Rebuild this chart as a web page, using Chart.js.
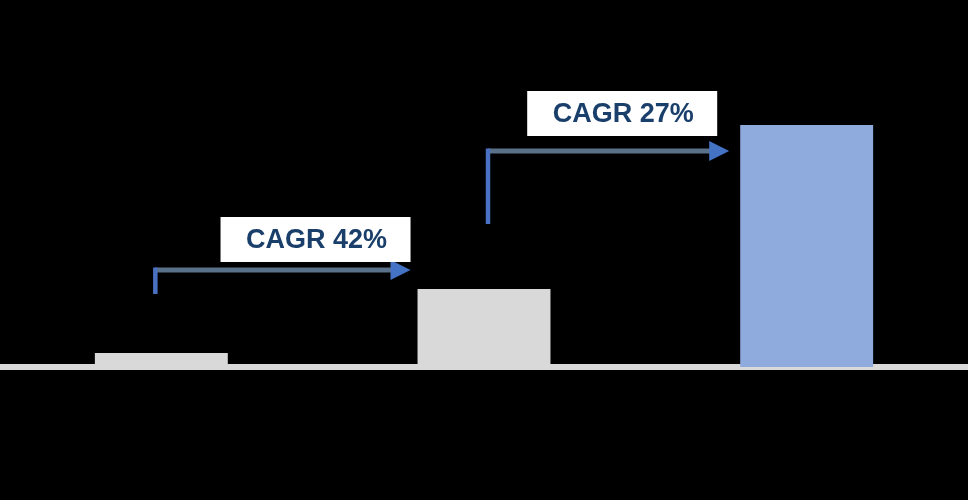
<!DOCTYPE html>
<html>
<head>
<meta charset="utf-8">
<script src="https://cdn.jsdelivr.net/npm/chart.js@4"></script>
<style>
  html, body { margin: 0; padding: 0; background: #000; }
  #wrap { width: 968px; height: 500px; }
</style>
</head>
<body>
<div id="wrap"><canvas id="cagrChart"></canvas></div>
<script>
// dados
const categories = ['Período 1', 'Período 2', 'Período 3'];
const values = [14, 78, 242];
const barColors = ['#D9D9D9', '#D9D9D9', '#8FAADC'];
const cagrLabels = ['CAGR 42%', 'CAGR 27%'];

// setas de CAGR entre as barras (desenhadas a partir das barras e da escala y)
const cagrArrows = {
    id: 'cagrArrows',
    afterDatasetsDraw(chart, args, opts) {
        const ctx = chart.ctx;
        const bars = chart.getDatasetMeta(0).data;
        const y = chart.scales.y;

        opts.arrows.forEach((a, i) => {
            const from = bars[a.from];
            const to = bars[a.to];
            const x0 = from.x + a.xOff;
            const tipX = to.x - to.width / 2 - a.gap;
            const yTop = y.getPixelForValue(a.high);
            const yBottom = y.getPixelForValue(a.low);
            const headLen = 20, headHalf = 10;

            ctx.save();
            // traço horizontal
            ctx.strokeStyle = '#5A7189';
            ctx.lineWidth = 5;
            ctx.beginPath();
            ctx.moveTo(x0, yTop);
            ctx.lineTo(tipX - headLen + 2, yTop);
            ctx.stroke();
            // traço vertical
            ctx.strokeStyle = '#4A70C2';
            ctx.lineWidth = 4.5;
            ctx.beginPath();
            ctx.moveTo(x0, yBottom);
            ctx.lineTo(x0, yTop - 2.5);
            ctx.stroke();
            // ponta
            ctx.fillStyle = '#4472C4';
            ctx.beginPath();
            ctx.moveTo(tipX, yTop);
            ctx.lineTo(tipX - headLen, yTop - headHalf);
            ctx.lineTo(tipX - headLen, yTop + headHalf);
            ctx.closePath();
            ctx.fill();

            // caixa branca com o texto
            const boxRight = tipX - a.boxGap;
            const boxLeft = boxRight - 190;
            const boxBottom = yTop - a.boxLift;
            const boxTop = boxBottom - 45;
            ctx.fillStyle = '#FFFFFF';
            ctx.fillRect(boxLeft, boxTop, boxRight - boxLeft, boxBottom - boxTop);
            ctx.fillStyle = '#1B3F6B';
            ctx.font = 'bold 27px "Liberation Sans", Arial, sans-serif';
            ctx.textAlign = 'center';
            ctx.textBaseline = 'middle';
            ctx.fillText(cagrLabels[i], (boxLeft + boxRight) / 2 + 1, (boxTop + boxBottom) / 2 + 1);
            ctx.restore();
        });
    }
};

new Chart(document.getElementById('cagrChart'), {
    type: 'bar',
    data: {
        labels: categories,
        datasets: [{
            data: values,
            backgroundColor: barColors,
            borderWidth: 0,
            categoryPercentage: 1,
            barPercentage: 0.412
        }]
    },
    options: {
        responsive: true,
        maintainAspectRatio: false,
        animation: false,
        layout: { padding: { top: 0, left: 0, right: 0, bottom: 133 } },
        plugins: {
            legend: { display: false },
            tooltip: { enabled: false },
            cagrArrows: {
                arrows: [
                    { from: 0, to: 1, xOff: -6, gap: 7, low: 73, high: 97, boxGap: 0, boxLift: 8 },
                    { from: 1, to: 2, xOff: 4, gap: 11, low: 143, high: 216, boxGap: 12, boxLift: 15 }
                ]
            }
        },
        scales: {
            x: {
                display: true,
                grid: { display: false, drawTicks: false },
                ticks: { display: false },
                border: { display: true, color: '#D9D9D9', width: 6 }
            },
            y: { display: false, min: 0, max: 367 }
        }
    },
    plugins: [cagrArrows]
});
</script>
</body>
</html>
